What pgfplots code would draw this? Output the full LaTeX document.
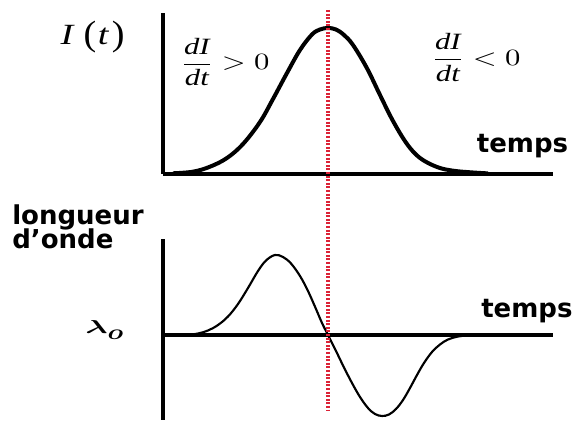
\documentclass[border=0pt]{standalone}
\usepackage{amsmath}
\usepackage{fontspec}
\setmainfont{Liberation Serif}
\newfontfamily\vb{DejaVu Sans}
\usepackage{graphicx}
\usepackage{pgfplots}
\pgfplotsset{compat=1.18}
\definecolor{reddot}{RGB}{220,35,55}
\begin{document}
\begin{tikzpicture}
\useasboundingbox (0,0) rectangle (429pt,321pt);
% ---------- top: intensity ----------
\begin{axis}[
  at={(122.25pt,190.5pt)}, anchor=south west,
  scale only axis, width=292.5pt, height=120.75pt,
  xmin=-165, xmax=225, ymin=0, ymax=161,
  axis x line*=bottom, axis y line*=left,
  axis line style={line width=2.6pt, black},
  xtick=\empty, ytick=\empty, clip=false]
\addplot[black, line width=3pt, smooth, tension=0.6] coordinates {
(-155,0.7) (-135,2.3) (-118,7.3) (-101,16) (-85,30) (-68,52) (-55,75)
(-41,101) (-28,124) (-16,139.5) (-8,144.5) (0,146) (8,144.5) (16,139) (25,129) (39,105.7)
(52,79) (65,53) (79,30) (92,16) (109,7) (125,3.3) (145,1.5) (160,0.6)};
\coordinate (rtop) at (axis cs:0,164);
\end{axis}
% ---------- bottom: wavelength ----------
\begin{axis}[
  at={(122.25pt,6pt)}, anchor=south west,
  scale only axis, width=292.5pt, height=135.75pt,
  xmin=-165, xmax=225, ymin=-85, ymax=96,
  axis x line*=middle, axis y line*=left,
  axis line style={line width=2.4pt, black},
  xtick=\empty, ytick=\empty, clip=false]
\addplot[black, line width=1.6pt, smooth, tension=0.6] coordinates {
(-141,0) (-130,1.5) (-120,4.5) (-110,10) (-100,18.5) (-90,31) (-80,47) (-70,64)
(-62,74.5) (-53,80) (-45,78) (-37,71.5) (-28,59) (-20,44) (-12,26) (-6,12) (0,0)
(8,-16) (16,-32.5) (24,-48) (32,-62) (40,-73) (47,-79) (54,-81) (61,-79.5) (68,-74)
(75,-65) (82,-53) (89,-40) (96,-28) (104,-17) (112,-9.5) (120,-4.5) (130,-1.5)
(140,-0.4) (150,0)};
\coordinate (rbot) at (axis cs:0,-75);
\end{axis}
% red dotted line at the maximum
\draw[reddot, line width=2.3pt, dash pattern=on 1.5pt off 1.2pt] (rtop) -- (rbot);
% ---------- texts ----------
\node at (69.5pt,293pt) {\scalebox{1.3}[1]{\fontsize{22}{22}\selectfont\textit{I}\hspace{5pt}\raisebox{-1pt}{\scalebox{1}[1.2]{(}}\hspace{1pt}\textit{t}\hspace{1.5pt}\raisebox{-1pt}{\scalebox{1}[1.2]{)}}}};
\node at (168.75pt,274.5pt) {\scalebox{2.3}[1.75]{$\displaystyle\frac{\textit{dI}}{\textit{dt}}>0$}};
\node at (357pt,278pt) {\scalebox{2.3}[1.75]{$\displaystyle\frac{\textit{dI}}{\textit{dt}}<0$}};
\node[anchor=base west, inner sep=0pt] at (357.5pt,206.25pt) {\vb\bfseries\fontsize{19.5}{19.5}\selectfont temps};
\node[anchor=base west, inner sep=0pt] at (360.75pt,82.5pt) {\vb\bfseries\fontsize{19.5}{19.5}\selectfont temps};
\node[anchor=base west, inner sep=0pt] at (9pt,152.6pt) {\vb\bfseries\fontsize{19.5}{19.5}\selectfont longueur};
\node[anchor=base west, inner sep=0pt] at (9pt,134.6pt) {\vb\bfseries\fontsize{19.5}{19.5}\selectfont d\textquoteright onde};
\node[anchor=base west, inner sep=0pt] at (63.75pt,70.5pt) {\scalebox{2.5}[1.4]{$\boldsymbol{\lambda}$}\raisebox{-4pt}{\scalebox{2.0}[1.6]{$\boldsymbol{o}$}}};
\end{tikzpicture}
\end{document}
